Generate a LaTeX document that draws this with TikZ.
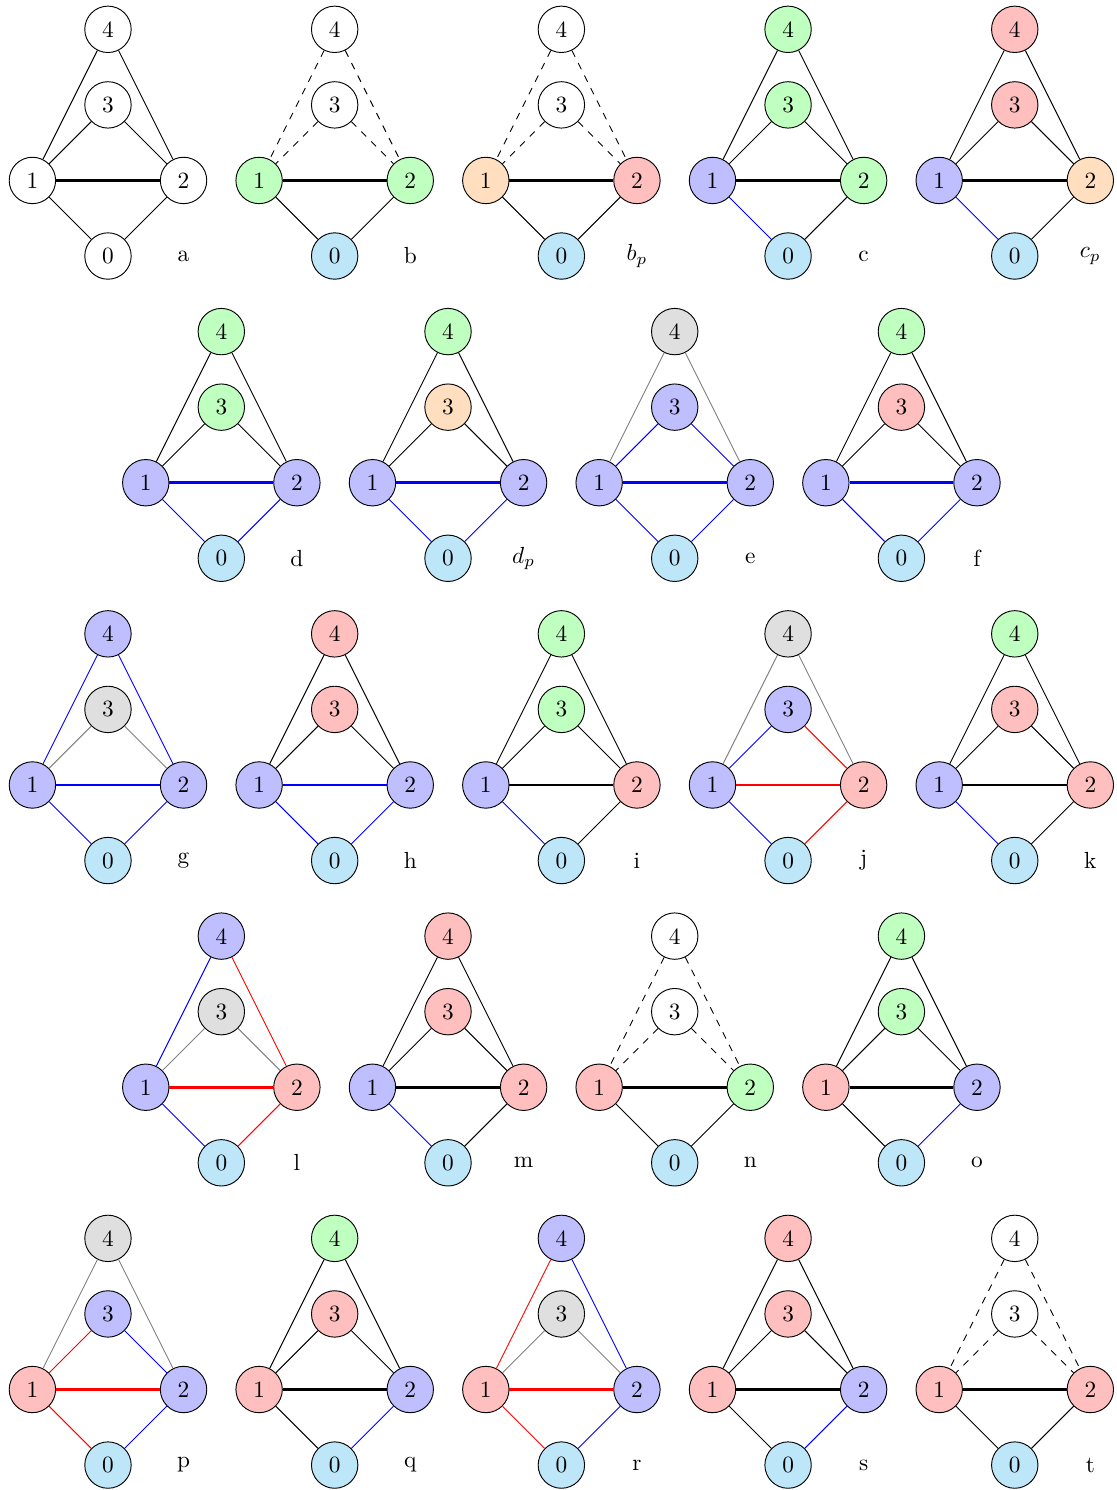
\documentclass[tikz,border=0pt]{standalone}
\usepackage{tikz}
\usetikzlibrary{positioning}
\usepackage{xcolor}
\definecolor{vblue}  {RGB}{191,191,255}
\definecolor{vred}   {RGB}{255,191,191}
\definecolor{vgreen} {RGB}{191,255,191}
\definecolor{vorange}{RGB}{255,223,191}
\definecolor{vgray}  {RGB}{223,223,223}
\definecolor{vcyan}  {RGB}{189,230,249}
\definecolor{eblack} {RGB}{0,0,0}
\definecolor{eblue}  {RGB}{0,0,255}
\definecolor{ered}   {RGB}{255,0,0}
\definecolor{egray}  {RGB}{128,128,128}

%% one graph: prefix, x, y of vertex 0, fills of vertices 0..4
\newcommand{\gverts}[8]{%
  \node[vtx,fill=#4] (#1-0) at (#2,#3)     {0};
  \node[vtx,fill=#5] (#1-1) at (#2-1,#3+1) {1};
  \node[vtx,fill=#6] (#1-2) at (#2+1,#3+1) {2};
  \node[vtx,fill=#7] (#1-3) at (#2,#3+2)   {3};
  \node[vtx,fill=#8] (#1-4) at (#2,#3+3)   {4};
}
%% edges: prefix, styles of 4-1, 4-2, 3-1, 3-2, 1-2, 1-0, 2-0
\newcommand{\gedges}[8]{%
  \draw[#2] (#1-4) -- (#1-1);
  \draw[#3] (#1-4) -- (#1-2);
  \draw[#4] (#1-3) -- (#1-1);
  \draw[#5] (#1-3) -- (#1-2);
  \draw[#6,hedge] (#1-1.east) -- (#1-2.west);
  \draw[#7] (#1-1) -- (#1-0);
  \draw[#8] (#1-2) -- (#1-0);
}

\begin{document}
\begin{tikzpicture}[
  x=1.14cm,y=1.14cm,
  vtx/.style={circle,draw=eblack,minimum size=7mm,inner sep=0pt},
  lab/.style={inner sep=0pt},
  hedge/.style={line width=1.1pt},
  edk/.style={draw=eblack},
  edd/.style={draw=eblack,dashed},
  edb/.style={draw=eblue},
  edr/.style={draw=ered},
  edg/.style={draw=egray},
]
\useasboundingbox (-1.429,-16.33) rectangle (13.352,3.388);

%% ── Row 1 ────────────────────────────────────────────────────────────────
\gverts{a}{0}{0}{white}{white}{white}{white}{white}
\gverts{b}{3}{0}{vcyan}{vgreen}{vgreen}{white}{white}
\gverts{bp}{6}{0}{vcyan}{vorange}{vred}{white}{white}
\gverts{c}{9}{0}{vcyan}{vblue}{vgreen}{vgreen}{vgreen}
\gverts{cp}{12}{0}{vcyan}{vblue}{vorange}{vred}{vred}

%% ── Row 2 ────────────────────────────────────────────────────────────────
\gverts{d}{1.5}{-4}{vcyan}{vblue}{vblue}{vgreen}{vgreen}
\gverts{dp}{4.5}{-4}{vcyan}{vblue}{vblue}{vorange}{vgreen}
\gverts{e}{7.5}{-4}{vcyan}{vblue}{vblue}{vblue}{vgray}
\gverts{f}{10.5}{-4}{vcyan}{vblue}{vblue}{vred}{vgreen}

%% ── Row 3 ────────────────────────────────────────────────────────────────
\gverts{g}{0}{-8}{vcyan}{vblue}{vblue}{vgray}{vblue}
\gverts{h}{3}{-8}{vcyan}{vblue}{vblue}{vred}{vred}
\gverts{i}{6}{-8}{vcyan}{vblue}{vred}{vgreen}{vgreen}
\gverts{j}{9}{-8}{vcyan}{vblue}{vred}{vblue}{vgray}
\gverts{k}{12}{-8}{vcyan}{vblue}{vred}{vred}{vgreen}

%% ── Row 4 ────────────────────────────────────────────────────────────────
\gverts{l}{1.5}{-12}{vcyan}{vblue}{vred}{vgray}{vblue}
\gverts{m}{4.5}{-12}{vcyan}{vblue}{vred}{vred}{vred}
\gverts{n}{7.5}{-12}{vcyan}{vred}{vgreen}{white}{white}
\gverts{o}{10.5}{-12}{vcyan}{vred}{vblue}{vgreen}{vgreen}

%% ── Row 5 ────────────────────────────────────────────────────────────────
\gverts{p}{0}{-16}{vcyan}{vred}{vblue}{vblue}{vgray}
\gverts{q}{3}{-16}{vcyan}{vred}{vblue}{vred}{vgreen}
\gverts{r}{6}{-16}{vcyan}{vred}{vblue}{vgray}{vblue}
\gverts{s}{9}{-16}{vcyan}{vred}{vblue}{vred}{vred}
\gverts{t}{12}{-16}{vcyan}{vred}{vred}{white}{white}

%% ── Edges ────────────────────────────────────────────────────────────────
\gedges{a}{edk}{edk}{edk}{edk}{edk}{edk}{edk}
\gedges{b}{edd}{edd}{edd}{edd}{edk}{edk}{edk}
\gedges{bp}{edd}{edd}{edd}{edd}{edk}{edk}{edk}
\gedges{c}{edk}{edk}{edk}{edk}{edk}{edb}{edk}
\gedges{cp}{edk}{edk}{edk}{edk}{edk}{edb}{edk}
\gedges{d}{edk}{edk}{edk}{edk}{edb}{edb}{edb}
\gedges{dp}{edk}{edk}{edk}{edk}{edb}{edb}{edb}
\gedges{e}{edg}{edg}{edb}{edb}{edb}{edb}{edb}
\gedges{f}{edk}{edk}{edk}{edk}{edb}{edb}{edb}
\gedges{g}{edb}{edb}{edg}{edg}{edb}{edb}{edb}
\gedges{h}{edk}{edk}{edk}{edk}{edb}{edb}{edb}
\gedges{i}{edk}{edk}{edk}{edk}{edk}{edb}{edk}
\gedges{j}{edg}{edg}{edb}{edr}{edr}{edb}{edr}
\gedges{k}{edk}{edk}{edk}{edk}{edk}{edb}{edk}
\gedges{l}{edb}{edr}{edg}{edg}{edr}{edb}{edr}
\gedges{m}{edk}{edk}{edk}{edk}{edk}{edb}{edk}
\gedges{n}{edd}{edd}{edd}{edd}{edk}{edk}{edk}
\gedges{o}{edk}{edk}{edk}{edk}{edk}{edk}{edb}
\gedges{p}{edg}{edg}{edr}{edb}{edr}{edr}{edb}
\gedges{q}{edk}{edk}{edk}{edk}{edk}{edk}{edb}
\gedges{r}{edr}{edb}{edg}{edg}{edr}{edr}{edb}
\gedges{s}{edk}{edk}{edk}{edk}{edk}{edk}{edb}
\gedges{t}{edd}{edd}{edd}{edd}{edk}{edk}{edk}

%% ── Labels ───────────────────────────────────────────────────────────────
\node[lab] (a-l)  at (1,0)      {a};
\node[lab] (b-l)  at (4,0)      {b};
\node[lab] (bp-l) at (7,0)      {$b_p$};
\node[lab] (c-l)  at (10,0)     {c};
\node[lab] (cp-l) at (13,0)     {$c_p$};
\node[lab] (d-l)  at (2.5,-4)   {d};
\node[lab] (dp-l) at (5.5,-4)   {$d_p$};
\node[lab] (e-l)  at (8.5,-4)   {e};
\node[lab] (f-l)  at (11.5,-4)  {f};
\node[lab] (g-l)  at (1,-8)     {g};
\node[lab] (h-l)  at (4,-8)     {h};
\node[lab] (i-l)  at (7,-8)     {i};
\node[lab] (j-l)  at (10,-8)    {j};
\node[lab] (k-l)  at (13,-8)    {k};
\node[lab] (l-l)  at (2.5,-12)  {l};
\node[lab] (m-l)  at (5.5,-12)  {m};
\node[lab] (n-l)  at (8.5,-12)  {n};
\node[lab] (o-l)  at (11.5,-12) {o};
\node[lab] (p-l)  at (1,-16)    {p};
\node[lab] (q-l)  at (4,-16)    {q};
\node[lab] (r-l)  at (7,-16)    {r};
\node[lab] (s-l)  at (10,-16)   {s};
\node[lab] (t-l)  at (13,-16)   {t};

\end{tikzpicture}
\end{document}
